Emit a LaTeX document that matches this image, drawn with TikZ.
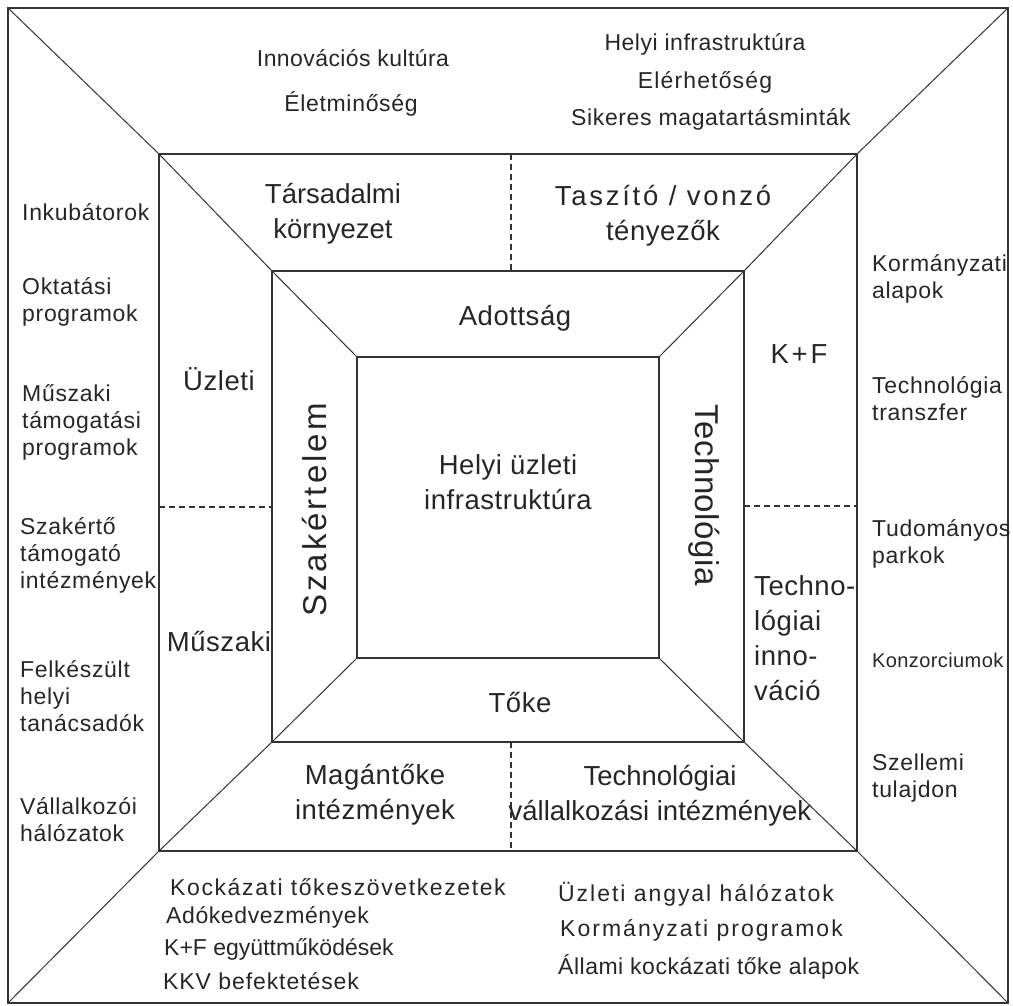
\documentclass[tikz,border=0pt]{standalone}
\usepackage{fontspec}
\setmainfont{Liberation Sans}
\begin{document}
\begin{tikzpicture}[x=1pt,y=-1pt,
  frame/.style={draw=black!80,line width=1.3pt},
  diag/.style={draw=black!80,line width=1pt},
  divider/.style={draw=black!80,line width=1.3pt,dash pattern=on 6pt off 4pt},
  % body text, with a letter spacing that can be set per label
  txt/.style={text=black!85,inner sep=0pt,
    font=\fontsize{23}{27}\selectfont\addfontfeature{LetterSpace=3}},
  big/.style={text=black!85,inner sep=0pt,
    font=\fontsize{27.5}{35}\selectfont\addfontfeature{LetterSpace=2}},
  ls/.style={font=\fontsize{23}{27}\selectfont\addfontfeature{LetterSpace=#1}},
  bls/.style={font=\fontsize{27.5}{35}\selectfont\addfontfeature{LetterSpace=#1}},
  vls/.style={font=\fontsize{33}{35}\selectfont\addfontfeature{LetterSpace=#1}},
  lft/.style={txt,anchor=west,align=left},
  ctr/.style={txt,align=center}]
\useasboundingbox (0,0) rectangle (1013,1006);

% corners of the four nested squares
\coordinate (o1) at (8,8);    \coordinate (o2) at (1008,8);
\coordinate (o3) at (1008,1003); \coordinate (o4) at (8,1003);
\coordinate (m1) at (159,154);  \coordinate (m2) at (857,154);
\coordinate (m3) at (857,851);  \coordinate (m4) at (159,851);
\coordinate (i1) at (272,271);  \coordinate (i2) at (744,271);
\coordinate (i3) at (744,742);  \coordinate (i4) at (272,742);
\coordinate (c1) at (357,357);  \coordinate (c2) at (659,357);
\coordinate (c3) at (659,658);  \coordinate (c4) at (357,658);

% squares
\draw[frame] (o1) rectangle (o3);
\draw[frame] (m1) rectangle (m3);
\draw[frame] (i1) rectangle (i3);
\draw[frame] (c1) rectangle (c3);

% corner diagonals
\draw[diag] (o1) -- (m1) -- (i1) -- (c1);
\draw[diag] (o2) -- (m2) -- (i2) -- (c2);
\draw[diag] (o3) -- (m3) -- (i3) -- (c3);
\draw[diag] (o4) -- (m4) -- (i4) -- (c4);

% dashed dividers in the middle ring
\coordinate (dt1) at (511,154); \coordinate (dt2) at (511,271);
\coordinate (db1) at (511,742); \coordinate (db2) at (511,851);
\coordinate (dl1) at (159,507); \coordinate (dl2) at (272,507);
\coordinate (dr1) at (744,506); \coordinate (dr2) at (857,506);
\draw[divider] (dt1) -- (dt2);
\draw[divider] (db1) -- (db2);
\draw[divider] (dl1) -- (dl2);
\draw[divider] (dr1) -- (dr2);

% outer ring: top
\node[ctr,ls=1.8] (t1) at (353,58) {Innovációs kultúra};
\node[ctr] (t2) at (351,104) {Életminőség};
\node[ctr,ls=2.2] (t3) at (705,44) {Helyi infrastruktúra};
\node[ctr,ls=5] (t4) at (705,82) {Elérhetőség};
\node[ctr,ls=2.7] (t5) at (711,119) {Sikeres magatartásminták};

% outer ring: left
\node[lft] (l1) at (22,212) {Inkubátorok};
\node[lft] (l2) at (22,302) {Oktatási\\programok};
\node[lft] (l3) at (22,422) {Műszaki\\támogatási\\programok};
\node[lft] (l4) at (20,555) {Szakértő\\támogató\\intézmények};
\node[lft] (l5) at (20,696) {Felkészült\\helyi\\tanácsadók};
\node[lft] (l6) at (20,820) {Vállalkozói\\hálózatok};

% outer ring: right
\node[lft] (r1) at (872,279) {Kormányzati\\alapok};
\node[lft] (r2) at (872,399) {Technológia\\transzfer};
\node[lft] (r3) at (872,544) {Tudományos\\parkok};
\node[lft,font=\fontsize{20}{24}\selectfont\addfontfeature{LetterSpace=2}] (r4) at (872,660) {Konzorciumok};
\node[lft] (r5) at (872,778) {Szellemi\\tulajdon};

% outer ring: bottom
\node[lft,ls=7] (b1) at (170,887) {Kockázati tőkeszövetkezetek};
\node[lft,ls=2.6] (b2) at (166,917) {Adókedvezmények};
\node[lft,ls=0] (b3) at (164,949) {K+F együttműködések};
\node[lft,ls=4] (b4) at (163,981) {KKV befektetések};
\node[lft,ls=8.5] (b5) at (558,894) {Üzleti angyal hálózatok};
\node[lft,ls=8.8] (b6) at (560,930) {Kormányzati programok};
\node[lft,ls=2.2] (b7) at (558,967) {Állami kockázati tőke alapok};

% middle ring
\node[big,bls=0,align=center] (s1) at (333,214) {Társadalmi\\környezet};
\node[big,align=center] (s2) at (663,216)
  {\addfontfeature{LetterSpace=10}Taszító / vonzó\\tényezők};
\node[big] (s3) at (219,379) {Üzleti};
\node[big] (s4) at (219,642) {Műszaki};
\node[big,bls=10] (s5) at (799,354) {K+F};
\node[big,anchor=west,align=left] (s6) at (754,638) {Techno-\\lógiai\\inno-\\váció};
\node[big,align=center] (s7) at (375,795) {Magántőke\\intézmények};
\node[big,bls=0,align=center] (s8) at (660,796) {Technológiai\\vállalkozási intézmények};

% inner ring
\node[big] (n1) at (515,318) {Adottság};
\node[big] (n2) at (520,703) {Tőke};
\node[big,rotate=90,vls=9] (n3) at (315,510) {Szakértelem};
\node[big,rotate=-90,vls=1.5] (n4) at (704,495) {Technológia};

% centre
\node[big,align=center] (core) at (508,482) {Helyi üzleti\\infrastruktúra};
\end{tikzpicture}
\end{document}
